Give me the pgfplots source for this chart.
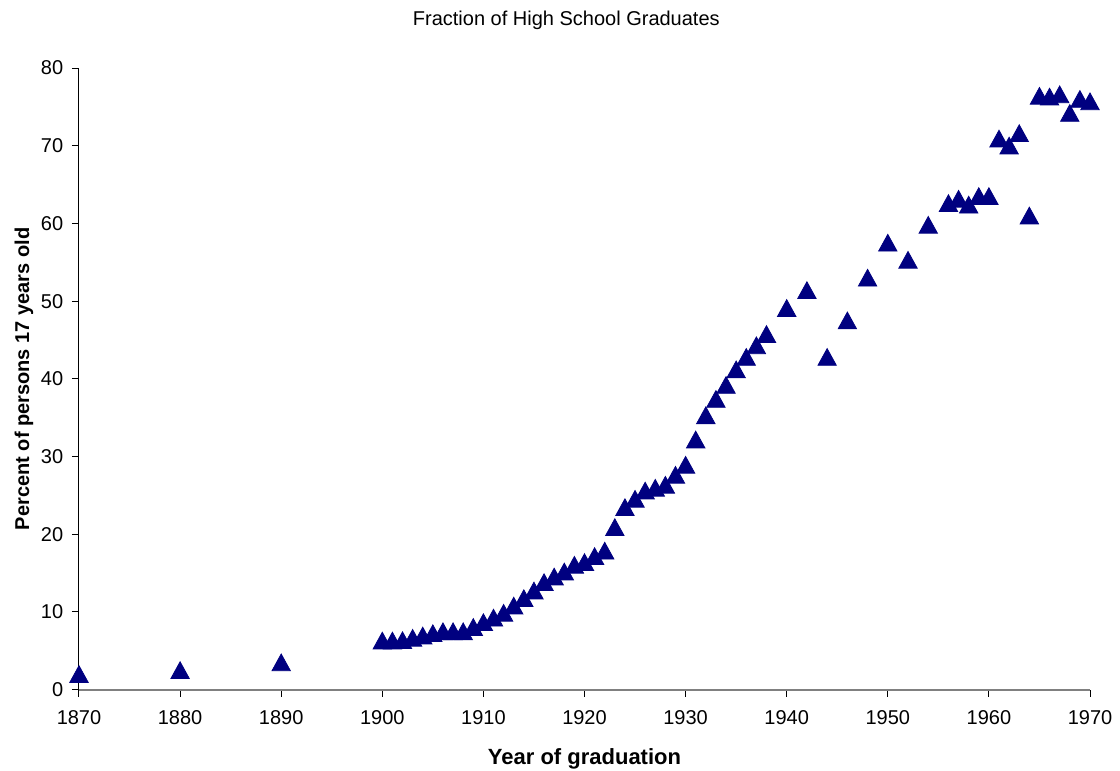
\documentclass[border=0pt]{standalone}
\usepackage{fontspec}
\setmainfont{Liberation Sans}
\usepackage{pgfplots}
\usepackage{pgfplotstable}
\pgfplotsset{compat=1.18}
\definecolor{xlnavy}{RGB}{0,0,128}
\pgfplotstableread{
year pct
1870 2.0
1880 2.5
1890 3.5
1900 6.3
1901 6.3
1902 6.35
1903 6.65
1904 6.95
1905 7.25
1906 7.5
1907 7.5
1908 7.5
1909 8.05
1910 8.67
1911 9.25
1912 9.87
1913 10.8
1914 11.76
1915 12.74
1916 13.82
1917 14.54
1918 15.19
1919 16.05
1920 16.4
1921 17.17
1922 17.87
1923 20.9
1924 23.47
1925 24.54
1926 25.6
1927 25.96
1928 26.35
1929 27.63
1930 28.92
1931 32.18
1932 35.3
1933 37.4
1934 39.2
1935 41.2
1936 42.8
1937 44.3
1938 45.75
1940 49.1
1942 51.4
1944 42.8
1946 47.5
1948 53.0
1950 57.5
1952 55.3
1954 59.8
1956 62.6
1957 63.15
1958 62.4
1959 63.5
1960 63.5
1961 70.9
1962 70.0
1963 71.6
1964 61.0
1965 76.4
1966 76.3
1967 76.6
1968 74.2
1969 76.0
1970 75.7
}\gradtable
\begin{document}
\begin{tikzpicture}
\path[use as bounding box] (-39.5pt,-40.65pt) rectangle (520.5pt,344.85pt);
\begin{axis}[
  at={(0,0)}, anchor=south west,
  scale only axis, width=505.5pt, height=310.85pt,
  xmin=1870, xmax=1970, ymin=0, ymax=80,
  xtick={1870,1880,...,1970}, ytick={0,10,...,80},
  axis x line*=bottom, axis y line*=left,
  x axis line style={-, draw=gray, line width=1pt},
  y axis line style={-, draw=black, line width=0.5pt},
  tick align=outside, major tick length=3.5pt,
  tick style={black, line width=0.5pt},
  /pgf/number format/1000 sep={},
  /pgf/number format/assume math mode=true,
  ticklabel style={font=\fontsize{10}{12}\selectfont},
  xticklabel style={anchor=center, yshift=-10.4pt},
  yticklabel style={anchor=east, xshift=-0.9pt},
  title={Fraction of High School Graduates},
  title style={font=\fontsize{10}{12}\selectfont, at={(axis description cs:0.482,1)}, anchor=center, yshift=18pt},
  xlabel={Year of graduation},
  xlabel style={font=\fontsize{11}{13}\selectfont\bfseries, at={(axis description cs:0.5,-0.1115)}, anchor=center},
  ylabel={Percent of persons 17 years old},
  ylabel style={font=\fontsize{10}{12}\selectfont\bfseries, at={(axis description cs:-0.0545,0.5)}, anchor=center},
  clip=false,
]
\addplot[only marks, mark=triangle*, mark size=5.3pt,
  mark options={fill=xlnavy, draw=xlnavy, line width=0.4pt, yshift=-1.33pt, yscale=1.05}]
  table[x=year, y=pct] {\gradtable};
\end{axis}
\end{tikzpicture}
\end{document}
